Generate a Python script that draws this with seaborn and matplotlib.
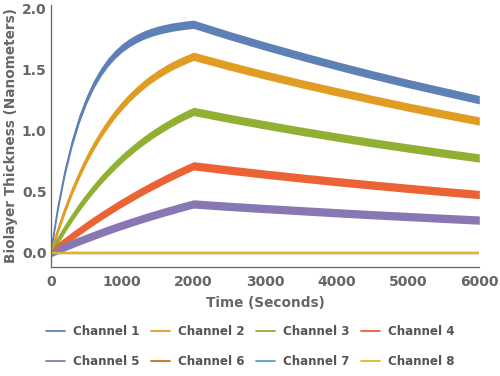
import matplotlib
matplotlib.use("Agg")
import matplotlib.pyplot as plt
from matplotlib.lines import Line2D
from matplotlib.ticker import MultipleLocator, FormatStrFormatter
import numpy as np
import pandas as pd
import seaborn as sns

sns.set_style("white")
plt.rcParams["font.family"] = ["DejaVu Sans"]

# sample times (seconds)
time_s = [0, 100, 200, 300, 400, 500, 600, 700, 800, 900, 1000,
          1100, 1200, 1300, 1400, 1500, 1600, 1700, 1800, 1900, 2000,
          2500, 3000, 3500, 4000, 4500, 5000, 5500, 6000]

# biolayer thickness (nm)
channel_1 = [0.0, 0.368, 0.665, 0.903, 1.096, 1.250, 1.376, 1.476, 1.558, 1.623, 1.676,
             1.718, 1.752, 1.780, 1.802, 1.820, 1.834, 1.846, 1.855, 1.863, 1.869,
             1.777, 1.691, 1.609, 1.531, 1.456, 1.385, 1.318, 1.252]
channel_2 = [0.0, 0.188, 0.357, 0.508, 0.643, 0.765, 0.873, 0.970, 1.057, 1.136, 1.205,
             1.268, 1.324, 1.375, 1.420, 1.460, 1.496, 1.529, 1.557, 1.583, 1.607,
             1.528, 1.454, 1.384, 1.318, 1.254, 1.192, 1.134, 1.078]
channel_3 = [0.0, 0.104, 0.201, 0.291, 0.375, 0.453, 0.526, 0.595, 0.658, 0.717, 0.773,
             0.824, 0.872, 0.917, 0.959, 0.998, 1.034, 1.068, 1.100, 1.129, 1.156,
             1.099, 1.046, 0.995, 0.947, 0.900, 0.857, 0.815, 0.775]
channel_4 = [0.0, 0.047, 0.092, 0.136, 0.178, 0.220, 0.260, 0.299, 0.336, 0.373, 0.409,
             0.443, 0.477, 0.509, 0.541, 0.571, 0.601, 0.630, 0.658, 0.685, 0.711,
             0.676, 0.643, 0.612, 0.582, 0.554, 0.527, 0.501, 0.476]
channel_5 = [0.0, 0.025, 0.050, 0.073, 0.097, 0.119, 0.141, 0.163, 0.184, 0.205, 0.225,
             0.244, 0.263, 0.282, 0.300, 0.317, 0.335, 0.351, 0.368, 0.384, 0.399,
             0.379, 0.361, 0.344, 0.327, 0.311, 0.296, 0.281, 0.267]
channel_6 = [0.0] * len(time_s)
channel_7 = [0.0] * len(time_s)
channel_8 = [0.0] * len(time_s)

channel_names = ["Channel 1", "Channel 2", "Channel 3", "Channel 4",
                 "Channel 5", "Channel 6", "Channel 7", "Channel 8"]
channel_values = [channel_1, channel_2, channel_3, channel_4,
                  channel_5, channel_6, channel_7, channel_8]
colors = ["#5E81B5", "#E19C24", "#8FB032", "#EB6235",
          "#8778B3", "#C56E1A", "#5D9EC7", "#E6B422"]
noisy = [True, True, True, True, True, False, False, False]
band = 0.034  # half thickness of the noisy signal band

gray = "#666666"

fig = plt.figure(figsize=(5.0, 3.76), dpi=100)
ax = fig.add_axes([0.1014, 0.2899, 0.8572, 0.6968])

for name, vals, col, nz in zip(channel_names, channel_values, colors, noisy):
    df = pd.DataFrame({"Time": time_s, "Thickness": vals})
    if nz:
        y = np.array(vals)
        ax.fill_between(time_s, y - band, y + band, color=col, linewidth=0)
        sns.lineplot(data=df, x="Time", y="Thickness", color=col, linewidth=1.0,
                     ax=ax, legend=False)
    else:
        sns.lineplot(data=df, x="Time", y="Thickness", color=col, linewidth=1.6,
                     ax=ax, legend=False)

ax.set_xlim(0, 6000)
ax.set_ylim(-0.117, 2.027)
ax.xaxis.set_major_locator(MultipleLocator(1000))
ax.xaxis.set_minor_locator(MultipleLocator(200))
ax.yaxis.set_major_locator(MultipleLocator(0.5))
ax.yaxis.set_minor_locator(MultipleLocator(0.1))
ax.yaxis.set_major_formatter(FormatStrFormatter("%.1f"))

for side in ["top", "right"]:
    ax.spines[side].set_visible(False)
for side in ["left", "bottom"]:
    ax.spines[side].set_color(gray)
    ax.spines[side].set_linewidth(0.9)

ax.tick_params(which="both", direction="in", colors=gray, width=0.8)
ax.tick_params(which="major", length=3.2)
ax.tick_params(which="minor", length=1.6)
ax.tick_params(axis="x", which="major", pad=5.5, labelsize=10)
ax.tick_params(axis="y", which="major", pad=3, labelsize=10)
for lab in ax.get_xticklabels() + ax.get_yticklabels():
    lab.set_fontweight("bold")
    lab.set_color(gray)

ax.set_xlabel("Time (Seconds)", fontsize=9.8, fontweight="bold", color=gray, labelpad=5)
ax.set_ylabel("Biolayer Thickness (Nanometers)", fontsize=9.8, fontweight="bold",
              color=gray, labelpad=3)

# legend filled row by row (matplotlib fills column by column)
order = [0, 4, 1, 5, 2, 6, 3, 7]
handles = [Line2D([0], [0], color=colors[i], lw=1.3) for i in order]
labels = [channel_names[i] for i in order]
leg = fig.legend(handles, labels, loc="center", bbox_to_anchor=(0.5, 0.079),
                 ncol=4, frameon=False, prop={"weight": "bold", "size": 8.6},
                 handlelength=1.6, handletextpad=0.65, columnspacing=0.98,
                 labelspacing=1.43)
for t in leg.get_texts():
    t.set_color("#555555")

fig.savefig("out.png", dpi=100)
plt.close(fig)
